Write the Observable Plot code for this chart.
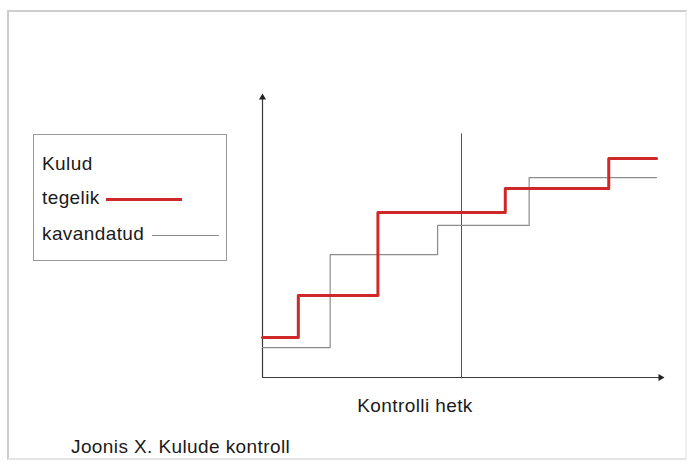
<!DOCTYPE html>
<html>
<head>
<meta charset="utf-8">
<script src="https://cdn.jsdelivr.net/npm/d3@7"></script>
<script src="https://cdn.jsdelivr.net/npm/@observablehq/plot@0.6"></script>
<style>
  html, body { margin: 0; padding: 0; background: #fff; }
  #wrap { position: relative; width: 691px; height: 468px; overflow: hidden; font-family: "Liberation Sans", Arial, sans-serif; color: #1a1a1a; }
  #wrap svg { position: absolute; left: 0; top: 0; }
  .frame { position: absolute; left: 7px; top: 10px; width: 676px; height: 446px; border: 2px solid #cdcdcd; border-right-color: #efefef; border-bottom-color: #e4e4e4; }
  .txt { position: absolute; font-size: 19px; line-height: 19px; letter-spacing: 0.4px; white-space: nowrap; }
  .legend { position: absolute; left: 33px; top: 134px; width: 192px; height: 125px; border: 1px solid #9a9a9a; background: #fff; }
  .swatch { position: absolute; }
</style>
</head>
<body>
<div id="wrap">
  <div class="frame"></div>
</div>
<script>
// Data (abstract units: time 0..100, cost 0..100)
const tegelikX = [0, 9, 29, 61, 87, 99];
const tegelikY = [14.3, 29.3, 58.9, 67.5, 78.2, 78.2];
const kavandatudX = [0, 17, 44, 67, 99];
const kavandatudY = [10.7, 43.9, 54.3, 71.4, 71.4];
const kontrolliHetk = 50;
const kontrolliTop = 87;
const legendLabels = ["Kulud", "tegelik", "kavandatud"];
const xLabel = "Kontrolli hetk";
const caption = "Joonis X. Kulude kontroll";

const tegelik = tegelikX.map((x, i) => ({x, y: tegelikY[i]}));
const kavandatud = kavandatudX.map((x, i) => ({x, y: kavandatudY[i]}));

const chart = Plot.plot({
  width: 691,
  height: 468,
  marginLeft: 262,
  marginRight: 31,
  marginTop: 97,
  marginBottom: 91,
  x: {domain: [0, 100], axis: null},
  y: {domain: [0, 100], axis: null},
  style: {background: "transparent", overflow: "visible"},
  marks: [
    Plot.ruleY([0], {x1: 0, x2: 100, stroke: "#3a3a3a", strokeWidth: 1.2}),
    Plot.ruleX([0], {y1: 0, y2: 100, stroke: "#3a3a3a", strokeWidth: 1.2}),
    Plot.dot([{x: 0, y: 100}], {x: "x", y: "y", symbol: "triangle", r: 2.6, fill: "#222", stroke: "none"}),
    Plot.dot([{x: 100, y: 0}], {x: "x", y: "y", symbol: "triangle", r: 2.6, fill: "#222", stroke: "none", rotate: 90}),
    Plot.ruleX([kontrolliHetk], {y1: -0.5, y2: kontrolliTop, stroke: "#555", strokeWidth: 1}),
    Plot.line(kavandatud, {x: "x", y: "y", curve: "step-after", stroke: "#8c8c8c", strokeWidth: 1.2}),
    Plot.line(tegelik, {x: "x", y: "y", curve: "step-after", stroke: "#cf2828", strokeWidth: 3})
  ]
});
const wrap = document.getElementById("wrap");
wrap.appendChild(chart);

function addText(t, left, top, extra) {
  const d = document.createElement("div");
  d.className = "txt";
  d.textContent = t;
  d.style.left = left + "px";
  d.style.top = top + "px";
  if (extra) Object.assign(d.style, extra);
  wrap.appendChild(d);
  return d;
}

const legend = document.createElement("div");
legend.className = "legend";
wrap.appendChild(legend);

addText(legendLabels[0], 42, 154);
addText(legendLabels[1], 42, 188);
addText(legendLabels[2], 42, 224);

const sw1 = document.createElement("div");
sw1.className = "swatch";
Object.assign(sw1.style, {left: "106px", top: "198px", width: "76px", height: "3px", background: "#cf2828"});
wrap.appendChild(sw1);
const sw2 = document.createElement("div");
sw2.className = "swatch";
Object.assign(sw2.style, {left: "152px", top: "235px", width: "67px", height: "1px", background: "#8c8c8c"});
wrap.appendChild(sw2);

addText(xLabel, 335, 396, {width: "160px", textAlign: "center"});
addText(caption, 71, 437);
</script>
</body>
</html>
